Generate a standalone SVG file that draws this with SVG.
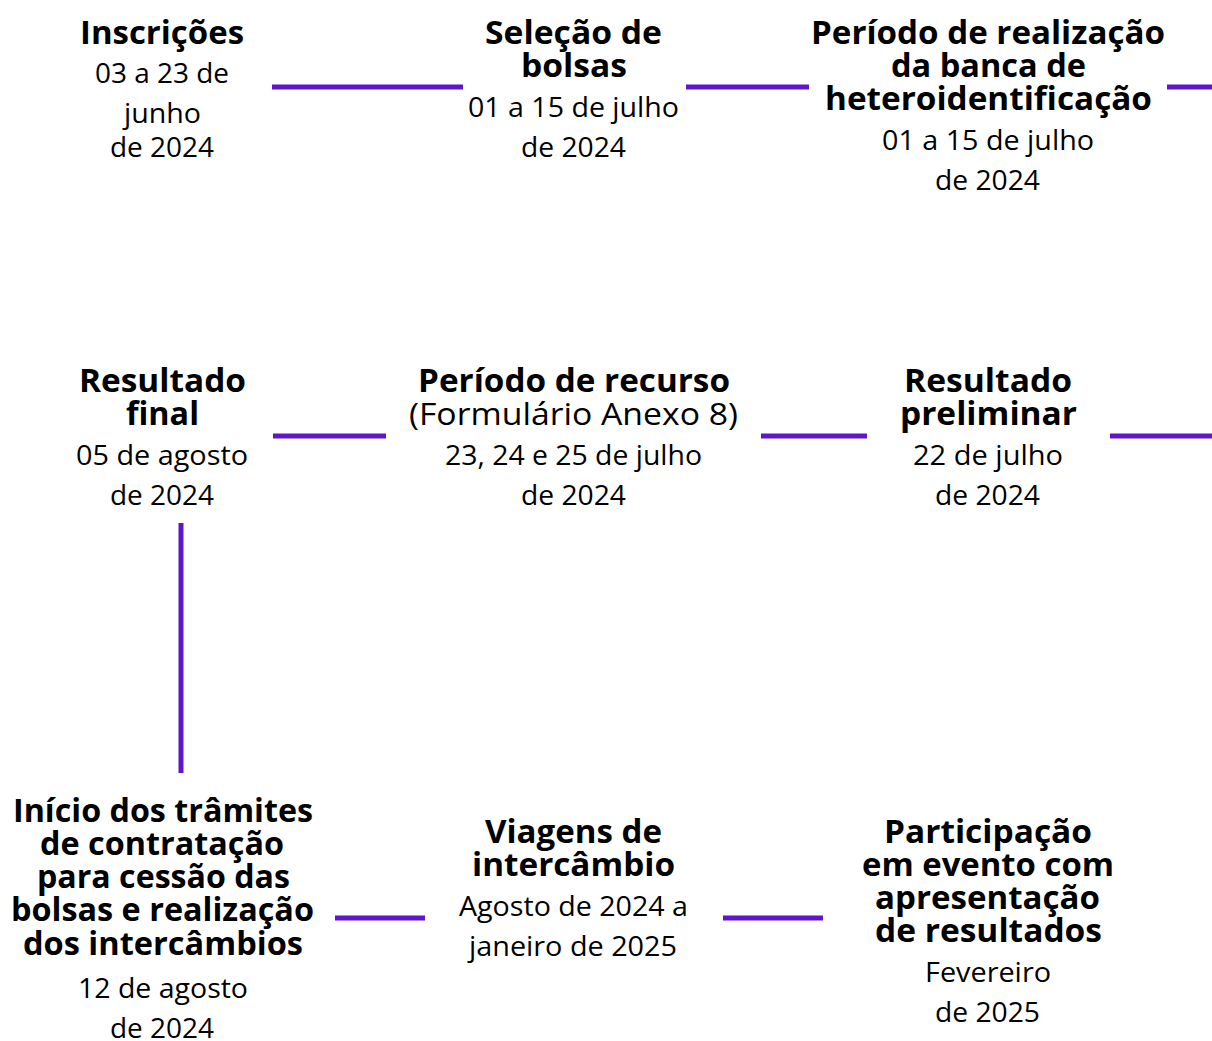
<svg xmlns="http://www.w3.org/2000/svg" width="1212" height="1041" viewBox="0 0 1212 1041">
<style>
text{font-family:"Open Sans","Noto Sans","DejaVu Sans",sans-serif;fill:#000;text-anchor:middle}
.t{font-size:33px;font-weight:700}
.d{font-size:28px;font-weight:400}
.p{font-size:31px;font-weight:400}
.c{stroke:#5f16cb;stroke-width:5;fill:none}
</style>
<rect width="1212" height="1041" fill="#fff"/>
<g id="connectors">
<line class="c" x1="272" y1="87" x2="463" y2="87"/>
<line class="c" x1="686" y1="87" x2="809" y2="87"/>
<line class="c" x1="1167" y1="87" x2="1212" y2="87"/>
<line class="c" x1="273" y1="436" x2="386" y2="436"/>
<line class="c" x1="761" y1="436" x2="867" y2="436"/>
<line class="c" x1="1110" y1="436" x2="1212" y2="436"/>
<line class="c" x1="181" y1="523" x2="181" y2="773"/>
<line class="c" x1="335" y1="918" x2="425" y2="918"/>
<line class="c" x1="723" y1="918" x2="823" y2="918"/>
</g>
<g id="inscricoes">
<text class="t" x="162" y="44" textLength="164" lengthAdjust="spacingAndGlyphs">Inscrições</text>
<text class="d" x="162" y="83" textLength="134" lengthAdjust="spacingAndGlyphs">03 a 23 de</text>
<text class="d" x="162.5" y="123" textLength="77" lengthAdjust="spacingAndGlyphs">junho</text>
<text class="d" x="162" y="157" textLength="104" lengthAdjust="spacingAndGlyphs">de 2024</text>
</g>
<g id="selecao">
<text class="t" x="573.5" y="44" textLength="177" lengthAdjust="spacingAndGlyphs">Seleção de</text>
<text class="t" x="574" y="77" textLength="106" lengthAdjust="spacingAndGlyphs">bolsas</text>
<text class="d" x="573.5" y="117" textLength="211" lengthAdjust="spacingAndGlyphs">01 a 15 de julho</text>
<text class="d" x="573.5" y="157" textLength="105" lengthAdjust="spacingAndGlyphs">de 2024</text>
</g>
<g id="banca">
<text class="t" x="988" y="44" textLength="354" lengthAdjust="spacingAndGlyphs">Período de realização</text>
<text class="t" x="988.5" y="77" textLength="195" lengthAdjust="spacingAndGlyphs">da banca de</text>
<text class="t" x="988.5" y="110" textLength="327" lengthAdjust="spacingAndGlyphs">heteroidentificação</text>
<text class="d" x="988" y="150" textLength="212" lengthAdjust="spacingAndGlyphs">01 a 15 de julho</text>
<text class="d" x="987.5" y="190" textLength="105" lengthAdjust="spacingAndGlyphs">de 2024</text>
</g>
<g id="resultado-final">
<text class="t" x="162.5" y="392" textLength="167" lengthAdjust="spacingAndGlyphs">Resultado</text>
<text class="t" x="162.5" y="425" textLength="73" lengthAdjust="spacingAndGlyphs">final</text>
<text class="d" x="162" y="465" textLength="172" lengthAdjust="spacingAndGlyphs">05 de agosto</text>
<text class="d" x="162" y="505" textLength="104" lengthAdjust="spacingAndGlyphs">de 2024</text>
</g>
<g id="recurso">
<text class="t" x="574" y="392" textLength="312" lengthAdjust="spacingAndGlyphs">Período de recurso</text>
<text class="p" x="573.5" y="425" textLength="329" lengthAdjust="spacingAndGlyphs">(Formulário Anexo 8)</text>
<text class="d" x="573.5" y="465" textLength="257" lengthAdjust="spacingAndGlyphs">23, 24 e 25 de julho</text>
<text class="d" x="573.5" y="505" textLength="105" lengthAdjust="spacingAndGlyphs">de 2024</text>
</g>
<g id="resultado-preliminar">
<text class="t" x="988" y="392" textLength="168" lengthAdjust="spacingAndGlyphs">Resultado</text>
<text class="t" x="988.5" y="425" textLength="177" lengthAdjust="spacingAndGlyphs">preliminar</text>
<text class="d" x="988" y="465" textLength="150" lengthAdjust="spacingAndGlyphs">22 de julho</text>
<text class="d" x="987.5" y="505" textLength="105" lengthAdjust="spacingAndGlyphs">de 2024</text>
</g>
<g id="inicio-tramites">
<text class="t" x="163" y="822" textLength="300" lengthAdjust="spacingAndGlyphs">Início dos trâmites</text>
<text class="t" x="162" y="855" textLength="244" lengthAdjust="spacingAndGlyphs">de contratação</text>
<text class="t" x="163.5" y="888" textLength="253" lengthAdjust="spacingAndGlyphs">para cessão das</text>
<text class="t" x="162.5" y="921" textLength="303" lengthAdjust="spacingAndGlyphs">bolsas e realização</text>
<text class="t" x="163" y="955" textLength="280" lengthAdjust="spacingAndGlyphs">dos intercâmbios</text>
<text class="d" x="163" y="998" textLength="170" lengthAdjust="spacingAndGlyphs">12 de agosto</text>
<text class="d" x="162" y="1038" textLength="104" lengthAdjust="spacingAndGlyphs">de 2024</text>
</g>
<g id="viagens">
<text class="t" x="573.5" y="843" textLength="177" lengthAdjust="spacingAndGlyphs">Viagens de</text>
<text class="t" x="573.5" y="876" textLength="203" lengthAdjust="spacingAndGlyphs">intercâmbio</text>
<text class="d" x="573.5" y="916" textLength="229" lengthAdjust="spacingAndGlyphs">Agosto de 2024 a</text>
<text class="d" x="573" y="956" textLength="208" lengthAdjust="spacingAndGlyphs">janeiro de 2025</text>
</g>
<g id="participacao">
<text class="t" x="988" y="843" textLength="208" lengthAdjust="spacingAndGlyphs">Participação</text>
<text class="t" x="988" y="876" textLength="252" lengthAdjust="spacingAndGlyphs">em evento com</text>
<text class="t" x="987.5" y="909" textLength="225" lengthAdjust="spacingAndGlyphs">apresentação</text>
<text class="t" x="988.5" y="942" textLength="227" lengthAdjust="spacingAndGlyphs">de resultados</text>
<text class="d" x="988" y="982" textLength="126" lengthAdjust="spacingAndGlyphs">Fevereiro</text>
<text class="d" x="987.5" y="1022" textLength="105" lengthAdjust="spacingAndGlyphs">de 2025</text>
</g>
</svg>
